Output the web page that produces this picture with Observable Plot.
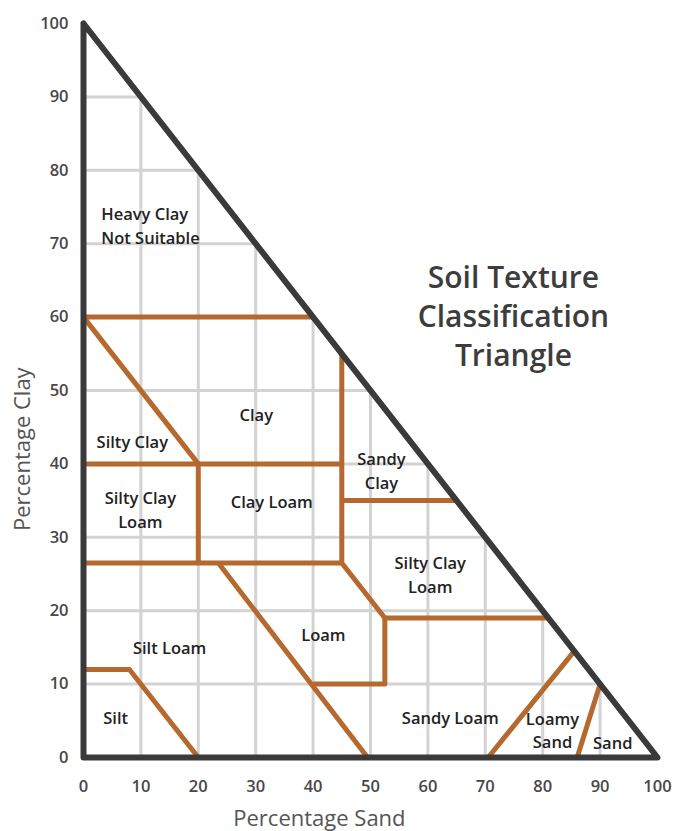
<!DOCTYPE html>
<html>
<head>
<meta charset="utf-8">
<script src="https://cdn.jsdelivr.net/npm/d3@7"></script>
<script src="https://cdn.jsdelivr.net/npm/@observablehq/plot@0.6"></script>
<style>
  body { margin: 0; background: #fff; }
  #chart { width: 682px; height: 831px; }
  #chart svg { font-family: "Open Sans", sans-serif; }
  g[aria-label$="tick label"] { font-weight: 600; fill: #474747; font-size: 16.5px; }
</style>
</head>
<body>
<div id="chart"></div>
<script>
// Axis ticks
const xTicks = [0, 10, 20, 30, 40, 50, 60, 70, 80, 90, 100];
const yTicks = [0, 10, 20, 30, 40, 50, 60, 70, 80, 90, 100];
const gridValues = [10, 20, 30, 40, 50, 60, 70, 80, 90];

// Axis titles
const xTitle = ["Percentage Sand"];
const yTitle = ["Percentage Clay"];
const xTitleSand = 41.1;
const yTitleClay = 42;

// Triangle outline (sand %, clay %)
const triangleSand = [0, 0, 100, 0];
const triangleClay = [100, 0, 0, 100];

// Class boundaries: polylines of [sand, clay]
const boundaryIds = ["clayTop", "siltyClayDiag", "clay40", "clayLoamLeft", "loam27", "sandyClayEdge", "sandyClay35", "loamRight", "loamBox", "silt", "loamySand", "sand"];
const boundaryPoints = [
  [[0, 60], [40, 60]],
  [[0, 60], [20, 40]],
  [[0, 40], [45, 40]],
  [[20, 40], [20, 26.5]],
  [[0, 26.5], [45, 26.5]],
  [[45, 55], [45, 26.5], [52.5, 19], [81, 19]],
  [[45, 35], [65, 35]],
  [[23.5, 26.5], [49.5, 0]],
  [[40, 10], [52.5, 10], [52.5, 19]],
  [[0, 12], [8, 12], [20, 0]],
  [[70.5, 0], [85.5, 14.5]],
  [[86, 0], [90, 10]]
];

// Class labels
const labelText = ["Clay", "Silty Clay", "Silty Clay\nLoam", "Clay Loam", "Sandy\nClay", "Silty Clay\nLoam", "Loam", "Silt Loam", "Silt", "Sandy Loam", "Loamy\nSand", "Sand"];
const labelSand = [30.1, 8.5, 9.9, 32.8, 51.9, 60.4, 41.8, 15.0, 5.6, 63.9, 81.7, 92.2];
const labelClay = [46.9, 43.2, 34.0, 35.0, 39.2, 25.1, 16.9, 15.1, 5.6, 5.6, 3.9, 2.2];
const leftLabelText = ["Heavy Clay\nNot Suitable"];
const leftLabelSand = [3.1];
const leftLabelClay = [72.6];

// Title
const titleText = ["Soil Texture\nClassification\nTriangle"];
const titleSand = [74.9];
const titleClay = [60.4];

const brown = "#b5692f";
const dark = "#3a3a3a";

const triangle = triangleSand.map((s, i) => ({sand: s, clay: triangleClay[i]}));
const boundaries = boundaryPoints.flatMap((pts, i) => pts.map(([s, c]) => ({id: boundaryIds[i], sand: s, clay: c})));
const labels = labelText.map((t, i) => ({text: t, sand: labelSand[i], clay: labelClay[i]}));
const leftLabels = leftLabelText.map((t, i) => ({text: t, sand: leftLabelSand[i], clay: leftLabelClay[i]}));
const titles = titleText.map((t, i) => ({text: t, sand: titleSand[i], clay: titleClay[i]}));

const chart = Plot.plot({
  width: 682,
  height: 831,
  marginLeft: 83,
  marginRight: 25,
  marginTop: 23,
  marginBottom: 74,
  style: {fontFamily: "Open Sans, sans-serif", fontSize: "15px", background: "#fff"},
  x: {domain: [0, 100]},
  y: {domain: [0, 100]},
  marks: [
    Plot.ruleX(gridValues, {x: d => d, y1: 0, y2: d => 100 - d, stroke: "#d3d3d3", strokeWidth: 3}),
    Plot.ruleY(gridValues, {y: d => d, x1: 0, x2: d => 100 - d, stroke: "#d3d3d3", strokeWidth: 3}),
    Plot.line(boundaries, {x: "sand", y: "clay", z: "id", stroke: brown, strokeWidth: 5, strokeLinejoin: "round", strokeLinecap: "butt"}),
    Plot.line(triangle, {x: "sand", y: "clay", stroke: dark, strokeWidth: 6, strokeLinejoin: "round", strokeLinecap: "round"}),
    Plot.axisX(xTicks, {tickSize: 0, tickPadding: 23, label: null}),
    Plot.axisY(yTicks, {tickSize: 0, tickPadding: 15, label: null}),
    Plot.text(xTitle, {x: () => xTitleSand, frameAnchor: "bottom", dy: 68, text: d => d, fill: "#555", fontSize: 22, fontWeight: 400, textAnchor: "middle"}),
    Plot.text(yTitle, {y: () => yTitleClay, frameAnchor: "left", dx: -61, rotate: -90, text: d => d, fill: "#555", fontSize: 22, fontWeight: 400, textAnchor: "middle", lineAnchor: "middle"}),
    Plot.text(labels, {x: "sand", y: "clay", text: "text", fill: "#222", fontSize: 16.5, fontWeight: 600, lineHeight: 1.45, textAnchor: "middle"}),
    Plot.text(leftLabels, {x: "sand", y: "clay", text: "text", fill: "#222", fontSize: 16.5, fontWeight: 600, lineHeight: 1.45, textAnchor: "start"}),
    Plot.text(titles, {x: "sand", y: "clay", text: "text", fill: "#3d3d3d", fontSize: 30, fontWeight: 600, lineHeight: 1.3, textAnchor: "middle"})
  ]
});
document.getElementById("chart").appendChild(chart);
</script>
</body>
</html>
